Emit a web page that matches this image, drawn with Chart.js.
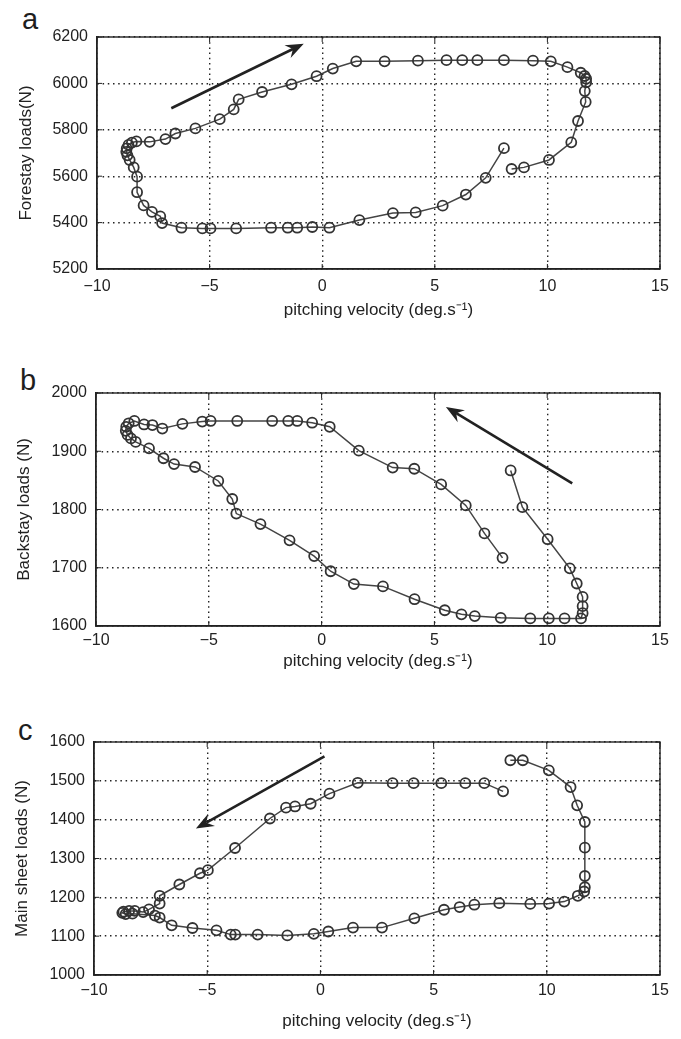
<!DOCTYPE html>
<html>
<head>
<meta charset="utf-8">
<script src="https://cdn.jsdelivr.net/npm/chart.js@4.4.1/dist/chart.umd.min.js"></script>
<style>
  html, body { margin: 0; padding: 0; background: #fff; }
  #wrap { position: relative; width: 681px; height: 1039px; overflow: hidden; }
  canvas { position: absolute; left: 0; }
  .tag { position: absolute; font: 29px "Liberation Sans", Arial, sans-serif; color: #1e1e1e; line-height: 1; }
</style>
</head>
<body>
<div id="wrap">
  <div class="tag" style="left:22px; top:5px">a</div>
  <div class="tag" style="left:20px; top:366px">b</div>
  <div class="tag" style="left:18px; top:716px">c</div>
  <canvas id="chartA" width="681" height="340" style="top:0"></canvas>
  <canvas id="chartB" width="681" height="340" style="top:340px"></canvas>
  <canvas id="chartC" width="681" height="359" style="top:680px"></canvas>
</div>
<script>
// tick values
const xTicks = [-10, -5, 0, 5, 10, 15];
const forestayTicks = [5200, 5400, 5600, 5800, 6000, 6200];
const backstayTicks = [1600, 1700, 1800, 1900, 2000];
const mainsheetTicks = [1000, 1100, 1200, 1300, 1400, 1500, 1600];

// a : forestay loads vs pitching velocity (in path order)
const velA = [8.07, 7.26, 6.38, 5.35, 4.15, 3.14, 1.65, 0.32, -0.44, -1.11,
  -1.53, -2.27, -3.82, -4.96, -5.32, -6.25, -7.11, -7.19, -7.56, -7.93,
  -8.22, -8.22, -8.37, -8.55, -8.65, -8.7, -8.68, -8.6, -8.45, -8.25,
  -7.66, -6.96, -6.52, -5.63, -4.55, -3.93, -3.71, -2.67, -1.36, -0.25,
  0.47, 1.51, 2.77, 4.25, 5.52, 6.22, 6.89, 8.07, 9.36, 10.15,
  10.89, 11.48, 11.65, 11.72, 11.72, 11.66, 11.7, 11.36, 11.06, 10.07,
  8.96, 8.41];
const forestay = [5721, 5593, 5521, 5473, 5444, 5441, 5411, 5378, 5381, 5378,
  5378, 5378, 5375, 5375, 5375, 5378, 5398, 5427, 5446, 5474,
  5531, 5598, 5638, 5670, 5690, 5705, 5720, 5735, 5745, 5750,
  5748, 5760, 5784, 5806, 5846, 5888, 5931, 5963, 5996, 6031,
  6064, 6095, 6095, 6098, 6100, 6100, 6100, 6100, 6098, 6095,
  6070, 6046, 6032, 6020, 6005, 5967, 5920, 5838, 5746, 5670,
  5638, 5631];

// b : backstay loads
const velB = [8.38, 8.9, 10.02, 11.0, 11.31, 11.57, 11.57, 11.57, 11.5, 10.77,
  10.07, 9.25, 7.94, 6.79, 6.2, 5.46, 4.12, 2.72, 1.43, 0.4,
  -0.33, -1.42, -2.71, -3.78, -3.96, -4.58, -5.61, -6.54, -7.01, -7.65,
  -8.24, -8.45, -8.6, -8.68, -8.66, -8.55, -8.3, -7.87, -7.5, -7.06,
  -6.17, -5.29, -4.92, -3.74, -2.19, -1.48, -1.08, -0.42, 0.36, 1.65,
  3.15, 4.11, 5.3, 6.39, 7.22, 8.02];
const backstay = [1867, 1804, 1749, 1699, 1673, 1650, 1634, 1622, 1613, 1613,
  1613, 1613, 1614, 1617, 1620, 1627, 1646, 1668, 1672, 1694,
  1720, 1747, 1775, 1793, 1818, 1849, 1873, 1878, 1888, 1905,
  1916, 1922, 1928, 1935, 1942, 1948, 1952, 1946, 1945, 1939,
  1947, 1951, 1952, 1952, 1952, 1952, 1952, 1949, 1942, 1901,
  1872, 1870, 1843, 1807, 1759, 1717];

// c : main sheet loads
const velC = [8.07, 7.24, 6.4, 5.34, 4.12, 3.19, 1.65, 0.4, -0.43, -1.12,
  -1.52, -2.23, -3.77, -4.97, -5.32, -6.23, -7.1, -7.1, -7.57, -7.83,
  -8.2, -8.45, -8.7, -8.75, -8.6, -8.3, -7.31, -7.1, -6.57, -5.65,
  -4.59, -3.96, -3.76, -2.77, -1.46, -0.29, 0.35, 1.44, 2.72, 4.15,
  5.46, 6.15, 6.8, 7.9, 9.27, 10.1, 10.77, 11.37, 11.65, 11.68,
  11.68, 11.68, 11.68, 11.34, 11.05, 10.09, 8.94, 8.39];
const mainsheet = [1473, 1494, 1494, 1494, 1494, 1494, 1495, 1467, 1441, 1434,
  1431, 1403, 1327, 1270, 1262, 1233, 1204, 1184, 1169, 1162,
  1165, 1165, 1163, 1160, 1157, 1158, 1153, 1148, 1128, 1121,
  1115, 1104, 1104, 1104, 1102, 1106, 1112, 1122, 1122, 1146,
  1168, 1175, 1181, 1185, 1183, 1184, 1189, 1204, 1215, 1226,
  1255, 1328, 1394, 1437, 1484, 1527, 1553, 1553];

// direction arrows, tail -> head, in data units
const arrowA = [-6.7, 5893, -0.82, 6171];
const arrowB = [11.11, 1845, 5.51, 1976];
const arrowC = [0.18, 1563, -5.5, 1377];

const FONT = '"Liberation Sans", Arial, Helvetica, sans-serif';
const INK = '#222';

// box round the plot, inward ticks like matlab, and the arrow
const framePlugin = {
  id: 'frame',
  afterDatasetsDraw(chart, args, opts) {
    const ctx = chart.ctx;
    const a = chart.chartArea;
    const xs = chart.scales.x, ys = chart.scales.y;
    ctx.save();
    ctx.strokeStyle = INK;
    ctx.lineWidth = 1.4;
    ctx.strokeRect(a.left, a.top, a.right - a.left, a.bottom - a.top);
    ctx.lineWidth = 1;
    ctx.beginPath();
    xs.ticks.forEach(t => {
      const px = xs.getPixelForValue(t.value);
      ctx.moveTo(px, a.bottom); ctx.lineTo(px, a.bottom - 5);
      ctx.moveTo(px, a.top); ctx.lineTo(px, a.top + 5);
    });
    ys.ticks.forEach(t => {
      const py = ys.getPixelForValue(t.value);
      ctx.moveTo(a.left, py); ctx.lineTo(a.left + 5, py);
      ctx.moveTo(a.right, py); ctx.lineTo(a.right - 5, py);
    });
    ctx.stroke();

    const ar = opts.arrow;
    if (ar) {
      const x0 = xs.getPixelForValue(ar[0]), y0 = ys.getPixelForValue(ar[1]);
      const x1 = xs.getPixelForValue(ar[2]), y1 = ys.getPixelForValue(ar[3]);
      const ang = Math.atan2(y1 - y0, x1 - x0);
      const len = 18, half = 7, notch = 12;
      ctx.strokeStyle = INK;
      ctx.fillStyle = INK;
      ctx.lineWidth = 2.6;
      ctx.beginPath();
      ctx.moveTo(x0, y0);
      ctx.lineTo(x1 - Math.cos(ang) * notch, y1 - Math.sin(ang) * notch);
      ctx.stroke();
      const bx = x1 - Math.cos(ang) * len, by = y1 - Math.sin(ang) * len;
      const nx = -Math.sin(ang), ny = Math.cos(ang);
      ctx.beginPath();
      ctx.moveTo(x1, y1);
      ctx.lineTo(bx + nx * half, by + ny * half);
      ctx.lineTo(x1 - Math.cos(ang) * notch, y1 - Math.sin(ang) * notch);
      ctx.lineTo(bx - nx * half, by - ny * half);
      ctx.closePath();
      ctx.fill();
    }
    ctx.restore();
  }
};

function fmt(v) {
  return String(v).replace('-', '\u2212');
}

function panel(id, vel, load, yTicks, yTitle, arrow, L) {
  const cv = document.getElementById(id);
  const pts = vel.map((x, i) => ({ x: x, y: load[i] }));
  const padBottom = cv.height - L.top - L.plotH - L.xh;
  return new Chart(cv, {
    type: 'scatter',
    data: {
      datasets: [{
        data: pts,
        showLine: true,
        borderColor: '#444',
        borderWidth: 1.5,
        pointRadius: 5,
        pointBorderWidth: 1.8,
        pointBorderColor: '#333',
        pointBackgroundColor: 'rgba(0,0,0,0)',
        tension: 0
      }]
    },
    options: {
      responsive: false,
      animation: false,
      layout: { padding: { top: L.top, right: 21, left: 0, bottom: padBottom } },
      plugins: {
        legend: { display: false },
        tooltip: { enabled: false },
        frame: { arrow: arrow }
      },
      scales: {
        x: {
          type: 'linear',
          min: xTicks[0],
          max: xTicks[xTicks.length - 1],
          afterBuildTicks: s => { s.ticks = xTicks.map(v => ({ value: v })); },
          afterFit: s => { s.height = L.xh; },
          grid: { color: '#222', lineWidth: 1.4, drawTicks: false },
          border: { display: true, color: INK, width: 1.4, dash: [1.5, 3.7] },
          ticks: { padding: L.tickPad, color: INK, font: { family: FONT, size: 16 }, callback: fmt, maxRotation: 0 },
          title: {
            display: true,
            text: 'pitching velocity (deg.s\u207B\u00B9)',
            color: INK,
            font: { family: FONT, size: 17 },
            padding: { top: 0, bottom: L.titlePad }
          }
        },
        y: {
          type: 'linear',
          min: yTicks[0],
          max: yTicks[yTicks.length - 1],
          afterBuildTicks: s => { s.ticks = yTicks.map(v => ({ value: v })); },
          afterFit: s => { s.width = L.left; },
          grid: { color: '#222', lineWidth: 1.4, drawTicks: false },
          border: { display: true, color: INK, width: 1.4, dash: [1.5, 3.7] },
          ticks: { padding: 9, color: INK, font: { family: FONT, size: 16 }, callback: fmt },
          title: {
            display: true,
            text: yTitle,
            color: INK,
            font: { family: FONT, size: 17 },
            padding: { top: L.yTitlePad, bottom: 0 }
          }
        }
      }
    },
    plugins: [framePlugin]
  });
}

panel('chartA', velA, forestay, forestayTicks, 'Forestay loads(N)', arrowA,
  { top: 37, plotH: 232, left: 97, xh: 56, tickPad: 8, titlePad: 4, yTitlePad: 16 });
panel('chartB', velB, backstay, backstayTicks, 'Backstay loads (N)', arrowB,
  { top: 53, plotH: 233, left: 96, xh: 52, tickPad: 5, titlePad: 6, yTitlePad: 14 });
panel('chartC', velC, mainsheet, mainsheetTicks, 'Main sheet loads (N)', arrowC,
  { top: 62, plotH: 233, left: 94, xh: 60, tickPad: 6, titlePad: 3, yTitlePad: 12 });
</script>
</body>
</html>
